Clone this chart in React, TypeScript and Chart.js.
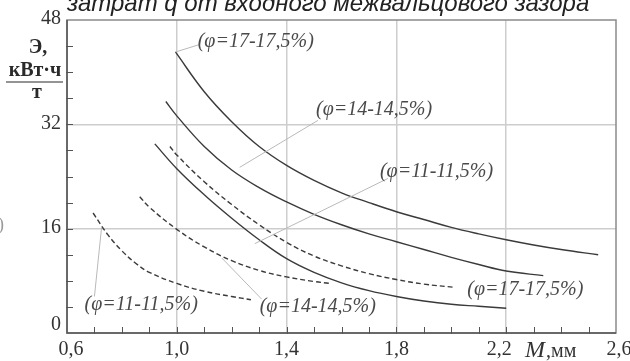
import React, { useEffect, useRef } from "react";
import { Chart, registerables } from "chart.js";

Chart.register(...registerables);

// ---- text ----
const titleText = "затрат q от входного межвальцового зазора";
const yTitleTop = "Э,";
const yTitleMid = "кВт·ч";
const yTitleBottom = "т";
const xTitleMain = "M";
const xTitleUnit = ",мм";
const phi17 = "(φ=17-17,5%)";
const phi14 = "(φ=14-14,5%)";
const phi11 = "(φ=11-11,5%)";

// ---- ticks ----
const xTickValues = [0.6, 1.0, 1.4, 1.8, 2.2, 2.6];
const xTickLabels = ["0,6", "1,0", "1,4", "1,8", "2,2", "2,6"];
const xGridValues = [1.0, 1.4, 1.8, 2.2];
const yTickValues = [0, 16, 32, 48];
const yTickLabels = ["0", "16", "32", "48"];
const yGridValues = [16, 32];

// ---- series (M, мм  ->  Э, кВт·ч/т) ----
// solid φ=17-17,5%
const mSolid17 = [0.995, 1.1, 1.2, 1.3, 1.4, 1.5, 1.6, 1.7, 1.8, 1.9, 2.0, 2.1, 2.2, 2.3, 2.4, 2.535];
const eSolid17 = [43.1, 37.0, 32.4, 28.6, 25.7, 23.4, 21.5, 20.0, 18.6, 17.4, 16.2, 15.2, 14.3, 13.5, 12.8, 12.0];
// solid φ=14-14,5%
const mSolid14 = [0.96, 1.0, 1.1, 1.2, 1.3, 1.4, 1.5, 1.6, 1.7, 1.8, 1.9, 2.0, 2.1, 2.2, 2.335];
const eSolid14 = [35.5, 33.3, 28.6, 25.0, 22.3, 20.1, 18.2, 16.6, 15.2, 14.0, 12.8, 11.6, 10.5, 9.5, 8.8];
// solid φ=11-11,5%
const mSolid11 = [0.92, 1.0, 1.1, 1.2, 1.3, 1.4, 1.5, 1.6, 1.7, 1.8, 1.9, 2.0, 2.1, 2.2];
const eSolid11 = [29.0, 25.2, 21.2, 17.6, 14.3, 11.4, 9.3, 7.7, 6.5, 5.6, 4.9, 4.4, 4.1, 3.8];
// dashed φ=17-17,5%
const mDash17 = [0.975, 1.0, 1.1, 1.2, 1.3, 1.4, 1.5, 1.6, 1.7, 1.8, 1.9, 2.014];
const eDash17 = [28.6, 27.3, 23.2, 19.7, 16.6, 13.9, 11.8, 10.3, 9.1, 8.2, 7.5, 7.0];
// dashed φ=14-14,5%
const mDash14 = [0.865, 0.9, 1.0, 1.1, 1.2, 1.3, 1.4, 1.5, 1.56];
const eDash14 = [20.9, 19.3, 15.9, 13.2, 11.1, 9.6, 8.6, 7.9, 7.6];
// dashed φ=11-11,5%
const mDash11 = [0.695, 0.75, 0.8, 0.85, 0.9, 1.0, 1.1, 1.2, 1.27];
const eDash11 = [18.4, 15.0, 12.6, 10.7, 9.3, 7.6, 6.4, 5.6, 5.1];

const toPoints = (xs: number[], ys: number[]) => xs.map((x, i) => ({ x, y: ys[i] }));

// curve labels, in data units (text left edge / vertical middle) with leader lines
const curveLabels = [
  { text: phi17, x: 1.076, y: 44.6, leader: [[0.996, 43.1], [1.08, 44.2]] },
  { text: phi14, x: 1.507, y: 34.2, leader: [[1.514, 32.6], [1.229, 25.4]] },
  { text: phi11, x: 1.74, y: 24.8, leader: [[1.769, 23.7], [1.284, 13.7]] },
  { text: phi11, x: 0.664, y: 4.3, leader: [[0.726, 16.2], [0.7, 5.6]] },
  { text: phi14, x: 1.302, y: 4.1, leader: [[1.164, 11.5], [1.309, 5.2]] },
  { text: phi17, x: 2.058, y: 6.6, leader: null as null | number[][] },
];

const SERIF = "'Liberation Serif', 'Times New Roman', serif";
const INK = "#3a3a3a";

const near = (arr: number[], v: number) => arr.some((a) => Math.abs(a - v) < 1e-6);

const decorPlugin = {
  id: "decor",
  afterDatasetsDraw(chart: any) {
    const { ctx, chartArea: a, scales } = chart;
    const xs = scales.x;
    const ys = scales.y;
    ctx.save();

    // leader lines
    ctx.strokeStyle = "#b9b9b9";
    ctx.lineWidth = 1;
    for (const l of curveLabels) {
      if (!l.leader) continue;
      ctx.beginPath();
      ctx.moveTo(xs.getPixelForValue(l.leader[0][0]), ys.getPixelForValue(l.leader[0][1]));
      ctx.lineTo(xs.getPixelForValue(l.leader[1][0]), ys.getPixelForValue(l.leader[1][1]));
      ctx.stroke();
    }
    // curve labels
    ctx.fillStyle = "#4a4a4a";
    ctx.font = `italic 20px ${SERIF}`;
    ctx.textAlign = "left";
    ctx.textBaseline = "middle";
    for (const l of curveLabels) {
      ctx.fillText(l.text, xs.getPixelForValue(l.x), ys.getPixelForValue(l.y));
    }

    // frame
    ctx.strokeStyle = "#8a8a8a";
    ctx.lineWidth = 1.5;
    ctx.strokeRect(a.left, a.top, a.right - a.left, a.bottom - a.top);
    ctx.strokeStyle = "#555";
    ctx.beginPath();
    ctx.moveTo(a.left, a.top);
    ctx.lineTo(a.left, a.bottom);
    ctx.lineTo(a.right, a.bottom);
    ctx.stroke();

    // minor inward ticks
    ctx.strokeStyle = "#555";
    ctx.lineWidth = 1;
    for (let k = 1; k < 20; k++) {
      const px = Math.round(xs.getPixelForValue(0.6 + k * 0.1)) + 0.5;
      ctx.beginPath();
      ctx.moveTo(px, a.bottom + 1);
      ctx.lineTo(px, a.bottom - 6);
      ctx.stroke();
    }
    for (let k = 1; k < 12; k++) {
      const py = Math.round(ys.getPixelForValue(k * 4)) + 0.5;
      ctx.beginPath();
      ctx.moveTo(a.left - 1, py);
      ctx.lineTo(a.left + 6, py);
      ctx.stroke();
    }

    // tick labels
    ctx.fillStyle = "#333";
    ctx.font = `20px ${SERIF}`;
    ctx.textAlign = "center";
    ctx.textBaseline = "middle";
    xTickValues.forEach((v, i) => {
      let px = xs.getPixelForValue(v);
      if (i === 0) px += 4;
      if (i === xTickValues.length - 2) px -= 7;
      if (i === xTickValues.length - 1) px += 3;
      ctx.fillText(xTickLabels[i], px, a.bottom + 17);
    });
    ctx.textAlign = "right";
    yTickValues.forEach((v, i) => {
      const py = ys.getPixelForValue(v);
      if (v === yTickValues[0]) {
        ctx.textBaseline = "bottom";
        ctx.fillText(yTickLabels[i], a.left - 6, py + 2);
        ctx.textBaseline = "middle";
      } else {
        ctx.fillText(yTickLabels[i], a.left - 6, py - 1);
      }
    });

    // x axis title
    ctx.textAlign = "left";
    ctx.textBaseline = "alphabetic";
    ctx.font = `italic 24px ${SERIF}`;
    const mx = 525;
    ctx.fillText(xTitleMain, mx, a.bottom + 24);
    const mw = ctx.measureText(xTitleMain).width;
    ctx.font = `20px ${SERIF}`;
    ctx.fillText(xTitleUnit, mx + mw + 1, a.bottom + 24);

    // y axis title
    ctx.fillStyle = "#2a2a2a";
    ctx.font = `bold 20px ${SERIF}`;
    ctx.textAlign = "center";
    ctx.textBaseline = "middle";
    ctx.fillText(yTitleTop, 38, 48);
    ctx.fillText(yTitleMid, 35, 71);
    ctx.fillText(yTitleBottom, 37, 93);
    ctx.strokeStyle = "#2a2a2a";
    ctx.lineWidth = 1.2;
    ctx.beginPath();
    ctx.moveTo(6, 82);
    ctx.lineTo(63, 82);
    ctx.stroke();

    // clipped title at the very top
    ctx.fillStyle = "#222";
    ctx.font = "italic 24px 'Liberation Sans', Arial, sans-serif";
    ctx.textAlign = "left";
    ctx.textBaseline = "alphabetic";
    ctx.fillText(titleText, 67, 11);

    // stray bracket at left edge
    ctx.fillStyle = "#9a9a9a";
    ctx.font = `18px ${SERIF}`;
    ctx.textAlign = "left";
    ctx.fillText(")", -2, 230);

    ctx.restore();
  },
};

export default function App() {
  const ref = useRef<HTMLCanvasElement | null>(null);

  useEffect(() => {
    if (!ref.current) return;
    const solid = (xs: number[], ys: number[]) => ({
      data: toPoints(xs, ys),
      borderColor: INK,
      borderWidth: 1.4,
      pointRadius: 0,
      tension: 0.4,
      fill: false,
    });
    const dashed = (xs: number[], ys: number[]) => ({
      ...solid(xs, ys),
      borderDash: [5, 3],
    });
    const chart = new Chart(ref.current, {
      type: "line",
      data: {
        datasets: [
          { label: phi17, ...solid(mSolid17, eSolid17) },
          { label: phi14, ...solid(mSolid14, eSolid14) },
          { label: phi11, ...solid(mSolid11, eSolid11) },
          { label: phi17 + " ", ...dashed(mDash17, eDash17) },
          { label: phi14 + " ", ...dashed(mDash14, eDash14) },
          { label: phi11 + " ", ...dashed(mDash11, eDash11) },
        ] as any,
      },
      options: {
        responsive: false,
        animation: false,
        devicePixelRatio: 1,
        layout: { padding: { left: 0, right: 14, top: 20, bottom: 0 } },
        plugins: { legend: { display: false }, tooltip: { enabled: false }, title: { display: false } },
        scales: {
          x: {
            type: "linear",
            min: 0.6,
            max: 2.6,
            afterFit: (s: any) => {
              s.height = 28;
            },
            ticks: { display: false, stepSize: 0.2 },
            border: { display: false },
            grid: {
              drawTicks: false,
              lineWidth: 1.5,
              color: (c: any) => (c.tick && near(xGridValues, c.tick.value) ? "#cdcdcd" : "rgba(0,0,0,0)"),
            },
          },
          y: {
            type: "linear",
            min: 0,
            max: 48,
            afterFit: (s: any) => {
              s.width = 67;
            },
            ticks: { display: false, stepSize: 16 },
            border: { display: false },
            grid: {
              drawTicks: false,
              lineWidth: 1.5,
              color: (c: any) => (c.tick && near(yGridValues, c.tick.value) ? "#cdcdcd" : "rgba(0,0,0,0)"),
            },
          },
        },
      } as any,
      plugins: [decorPlugin],
    });
    return () => chart.destroy();
  }, []);

  return (
    <div style={{ position: "fixed", left: 0, top: 0, width: 630, height: 361, background: "#fff" }}>
      <canvas ref={ref} width={630} height={361} style={{ width: 630, height: 361, display: "block" }} />
    </div>
  );
}
